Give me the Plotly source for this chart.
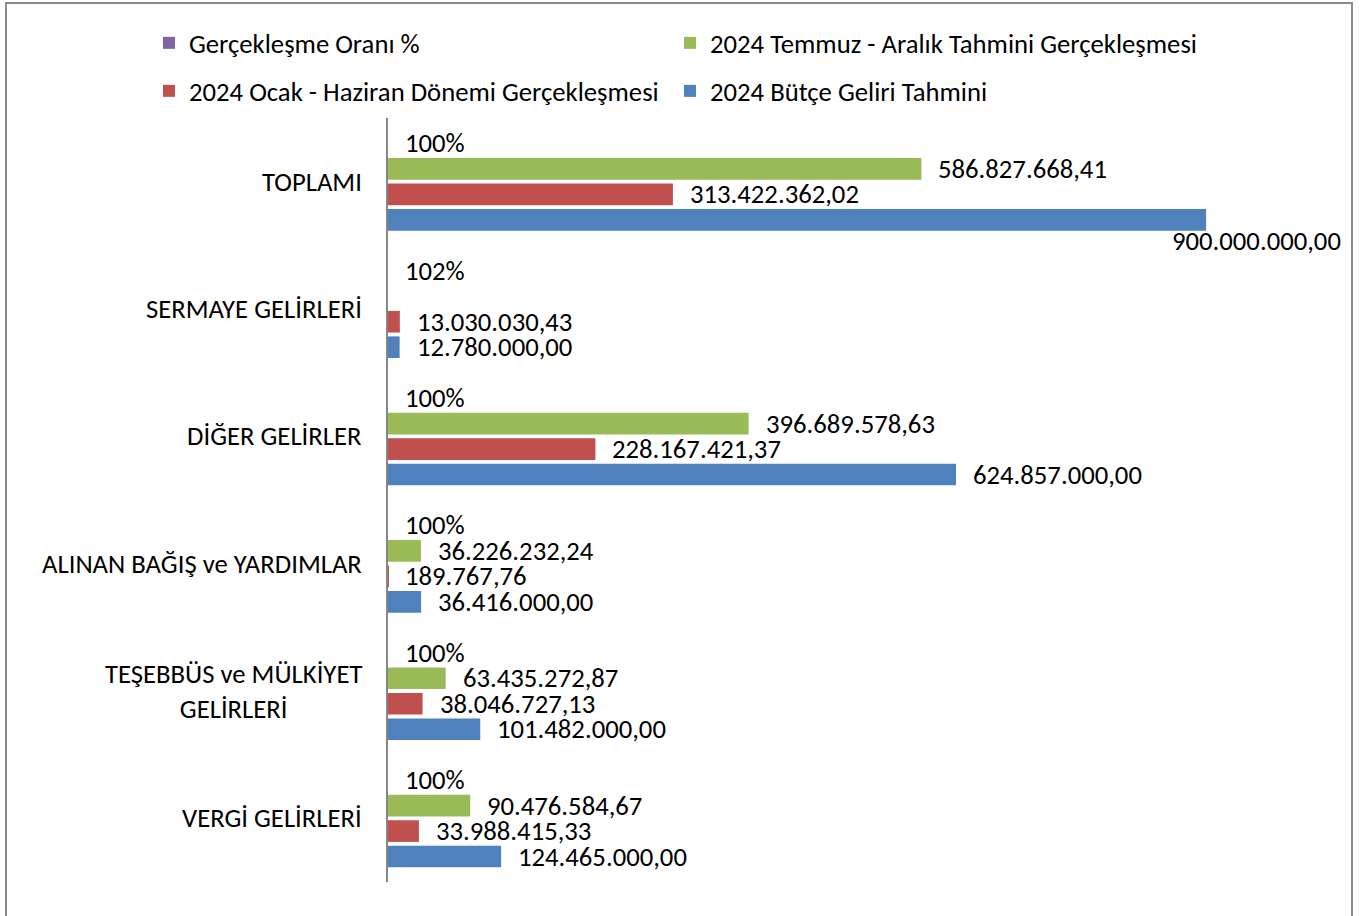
import plotly.graph_objects as go

categories = ["VERGİ GELİRLERİ", "TEŞEBBÜS ve MÜLKİYET GELİRLERİ", "ALINAN BAĞIŞ ve YARDIMLAR",
              "DİĞER GELİRLER", "SERMAYE GELİRLERİ", "TOPLAMI"]
category_labels = ["VERGİ GELİRLERİ", "TEŞEBBÜS ve MÜLKİYET<br>GELİRLERİ", "ALINAN BAĞIŞ ve YARDIMLAR",
                   "DİĞER GELİRLER", "SERMAYE GELİRLERİ", "TOPLAMI"]

butce = [124465000.00, 101482000.00, 36416000.00, 624857000.00, 12780000.00, 900000000.00]
ocak_haziran = [33988415.33, 38046727.13, 189767.76, 228167421.37, 13030030.43, 313422362.02]
temmuz_aralik = [90476584.67, 63435272.87, 36226232.24, 396689578.63, None, 586827668.41]
oran = [1.00, 1.00, 1.00, 1.00, 1.02, 1.00]

names = ["2024 Bütçe Geliri Tahmini", "2024 Ocak - Haziran Dönemi Gerçekleşmesi",
         "2024 Temmuz - Aralık Tahmini Gerçekleşmesi", "Gerçekleşme Oranı %"]
colors = ["#4F81BD", "#C0504D", "#9BBB59", "#8064A2"]
legend_ids = ["legend4", "legend3", "legend2", "legend"]
# legend item positions (px): text start minus 40, row centre
legend_pos = [(670, 91), (149, 91), (670, 43), (149, 43)]
series = [butce, ocak_haziran, temmuz_aralik, oran]

FONT = "Carlito, Lato, sans-serif"
FS = 26.7

W, H = 1370, 916
ML, MR, MT, MB = 388, 73, 118, 34
XMAX = 1.0e9


def fmt_tr(v):
    s = f"{v:,.2f}"
    return s.replace(",", "X").replace(".", ",").replace("X", ".")


fig = go.Figure()
for k, (vals, nm, col, lg) in enumerate(zip(series, names, colors, legend_ids)):
    fig.add_trace(go.Bar(
        y=categories, x=vals, name=nm, orientation="h",
        marker=dict(color=col, line=dict(width=0)),
        legend=lg, hoverinfo="x+y",
    ))

fig.update_layout(barmode="group", bargap=0.2, bargroupgap=0.15)

plot_h = H - MT - MB
band = plot_h / len(categories)
slot = band * (1 - 0.2) / 4
plot_w = W - ML - MR

annotations = []
for k, vals in enumerate(series):
    yshift = -band * 0.4 + slot * (k + 0.5)
    for cat, v in zip(categories, vals):
        if v is None:
            continue
        txt = f"{round(v * 100):d}%" if k == 3 else fmt_tr(v)
        a = dict(x=v, y=cat, xref="x", yref="y", text=txt, showarrow=False,
                 xanchor="left", yanchor="middle", xshift=15, yshift=yshift,
                 font=dict(family=FONT, size=FS, color="#000000"))
        end_px = v / XMAX * plot_w
        if end_px + 17 + 170 > plot_w:
            a.update(xanchor="right", xshift=137, yshift=yshift - 21)
        annotations.append(a)

for cat, lab in zip(categories, category_labels):
    annotations.append(dict(x=0, y=cat, xref="paper", yref="y", text=lab, showarrow=False,
                            xanchor="right", yanchor="middle", xshift=-24, align="center",
                            font=dict(family=FONT, size=FS, color="#000000")))


def px_to_paper_x(px):
    return (px - ML) / plot_w


def px_to_paper_y(py):
    return (H - MB - py) / plot_h


shapes = [dict(type="rect", xref="paper", yref="paper",
               x0=px_to_paper_x(6), x1=px_to_paper_x(1352),
               y0=px_to_paper_y(925), y1=px_to_paper_y(3),
               line=dict(color="#8C8C8C", width=2), fillcolor="rgba(0,0,0,0)", layer="below")]

legend_layout = {}
for lg, (lx, ly) in zip(legend_ids, legend_pos):
    legend_layout[lg] = dict(orientation="h", xref="paper", yref="paper",
                             x=px_to_paper_x(lx), y=px_to_paper_y(ly),
                             xanchor="left", yanchor="middle",
                             font=dict(family=FONT, size=FS, color="#000000"),
                             bgcolor="rgba(0,0,0,0)", borderwidth=0,
                             itemclick=False, itemdoubleclick=False)

fig.update_layout(
    width=W, height=H,
    margin=dict(l=ML, r=MR, t=MT, b=MB, pad=0, autoexpand=False),
    paper_bgcolor="white", plot_bgcolor="white",
    font=dict(family=FONT, size=FS, color="#000000"),
    xaxis=dict(range=[0, XMAX], showgrid=False, zeroline=False, showticklabels=False,
               showline=False, ticks=""),
    yaxis=dict(type="category", categoryorder="array", categoryarray=categories,
               showticklabels=False, showgrid=False, zeroline=False,
               showline=True, linecolor="#868686", linewidth=2, ticks=""),
    annotations=annotations,
    shapes=shapes,
    showlegend=True,
    **legend_layout,
)

fig.write_html("out.html", post_script="document.body.style.margin='0';",
               config={"displayModeBar": False})
